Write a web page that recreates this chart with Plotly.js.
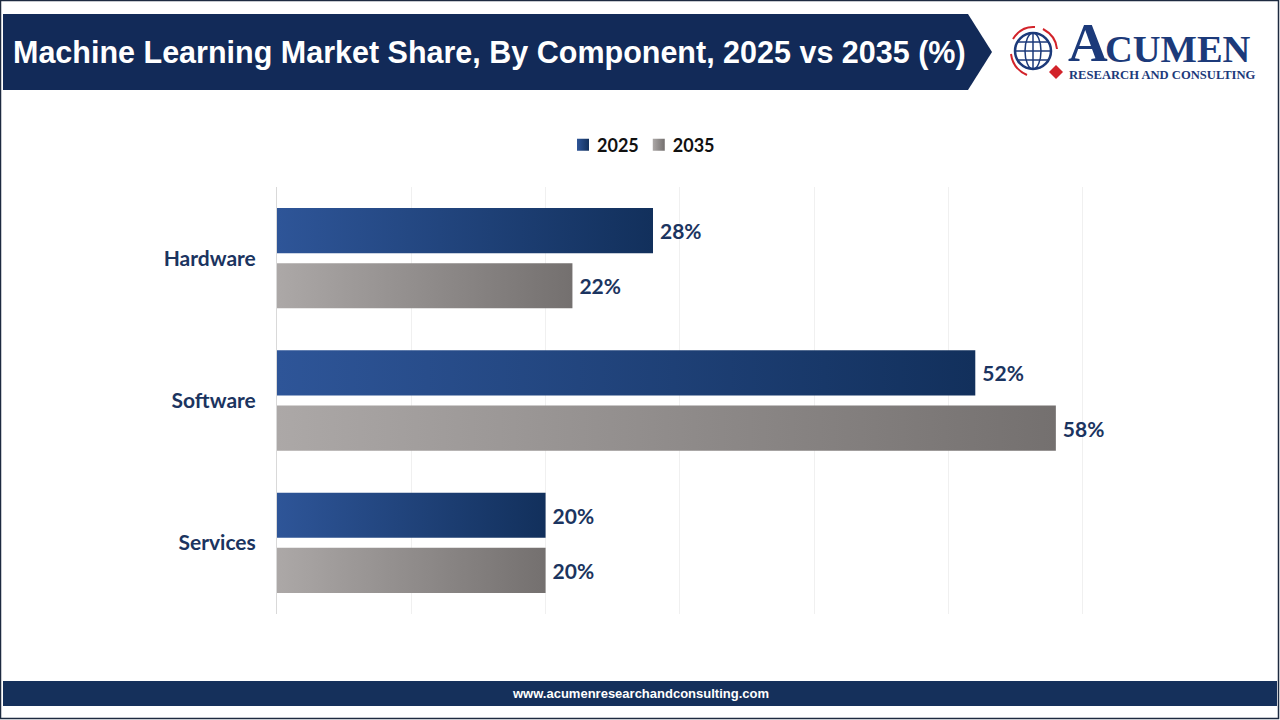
<!DOCTYPE html>
<html>
<head>
<meta charset="utf-8">
<script src="https://cdn.plot.ly/plotly-3.0.1.min.js"></script>
<style>
  html, body { margin: 0; padding: 0; background: #ffffff; }
  #chart { width: 1280px; height: 720px; }
</style>
</head>
<body>
<div id="chart"></div>
<script>
// Market share by component (percent)
const components = ['Hardware', 'Software', 'Services'];
const share2025 = [28, 52, 20];
const share2035 = [22, 58, 20];
const seriesNames = ['2025', '2035'];

const W = 1280, H = 720;
const M = { l: 277, r: 63, t: 187, b: 106 };
const PW = W - M.l - M.r, PH = H - M.t - M.b;
// pixel -> paper fraction helpers for decorations
const px = v => (v - M.l) / PW;
const py = v => (H - M.b - v) / PH;

const navy = '#1b3460';
const labelFont = { family: 'Lato, "Open Sans", sans-serif', size: 21, color: navy, weight: 700 };

const traces = [
  {
    type: 'bar', orientation: 'h', name: seriesNames[0],
    y: components, x: share2025,
    marker: { color: '#1f4280' },
    text: share2025.map(v => v + '%'), textposition: 'outside',
    textfont: labelFont, cliponaxis: false, hoverinfo: 'skip'
  },
  {
    type: 'bar', orientation: 'h', name: seriesNames[1],
    y: components, x: share2035,
    marker: { color: '#8f8b8a' },
    text: share2035.map(v => v + '%'), textposition: 'outside',
    textfont: labelFont, cliponaxis: false, hoverinfo: 'skip'
  }
];

function rectPath(x0, y0, x1, y1) {
  return `M${px(x0)},${py(y0)} L${px(x1)},${py(y0)} L${px(x1)},${py(y1)} L${px(x0)},${py(y1)} Z`;
}

const logoBlue = '#1c3a7a';
const logoRed = '#d2232a';

const shapes = [
  // outer frame
  { type: 'rect', xref: 'paper', yref: 'paper', x0: px(0.5), x1: px(1278.5), y0: py(0.5), y1: py(718.5),
    line: { color: '#1d2a40', width: 1.5 }, fillcolor: 'rgba(0,0,0,0)', layer: 'below' },
  // title banner with arrow tip
  { type: 'path', xref: 'paper', yref: 'paper',
    path: `M${px(3)},${py(14)} L${px(968)},${py(14)} L${px(992)},${py(52)} L${px(968)},${py(90)} L${px(3)},${py(90)} Z`,
    fillcolor: '#122a58', line: { width: 0 } },
  // footer band
  { type: 'path', xref: 'paper', yref: 'paper', path: rectPath(3, 681, 1277, 706),
    fillcolor: '#15305b', line: { width: 0 } },
  // logo globe
  { type: 'circle', xref: 'paper', yref: 'paper', x0: px(1015), x1: px(1051), y0: py(33), y1: py(69),
    line: { color: logoBlue, width: 2.5 }, fillcolor: '#ffffff' },
  { type: 'circle', xref: 'paper', yref: 'paper', x0: px(1025), x1: px(1041), y0: py(33), y1: py(69),
    line: { color: logoBlue, width: 1.5 } },
  { type: 'line', xref: 'paper', yref: 'paper', x0: px(1033), x1: px(1033), y0: py(33), y1: py(69),
    line: { color: logoBlue, width: 1.5 } },
  { type: 'line', xref: 'paper', yref: 'paper', x0: px(1015), x1: px(1051), y0: py(51), y1: py(51),
    line: { color: logoBlue, width: 1.5 } },
  { type: 'line', xref: 'paper', yref: 'paper', x0: px(1018), x1: px(1048), y0: py(42), y1: py(42),
    line: { color: logoBlue, width: 1.5 } },
  { type: 'line', xref: 'paper', yref: 'paper', x0: px(1018), x1: px(1048), y0: py(60), y1: py(60),
    line: { color: logoBlue, width: 1.5 } },
  // red orbit arcs
  { type: 'path', xref: 'paper', yref: 'paper',
    path: `M${px(1013)},${py(39)} Q${px(1021)},${py(26)} ${px(1035)},${py(27)}`,
    line: { color: logoRed, width: 2 } },
  { type: 'path', xref: 'paper', yref: 'paper',
    path: `M${px(1043)},${py(29)} Q${px(1056)},${py(36)} ${px(1057)},${py(49)}`,
    line: { color: logoRed, width: 2 } },
  { type: 'path', xref: 'paper', yref: 'paper',
    path: `M${px(1011)},${py(54)} Q${px(1013)},${py(69)} ${px(1027)},${py(75)}`,
    line: { color: logoRed, width: 2 } },
  // red diamond
  { type: 'path', xref: 'paper', yref: 'paper',
    path: `M${px(1056)},${py(65)} L${px(1063)},${py(72)} L${px(1056)},${py(79)} L${px(1049)},${py(72)} Z`,
    fillcolor: logoRed, line: { width: 0 } }
];

const serif = '"Liberation Serif", "DejaVu Serif", serif';
const annotations = [
  { xref: 'paper', yref: 'paper', x: px(11), y: py(52), xanchor: 'left', yanchor: 'middle', showarrow: false,
    text: 'Machine Learning Market Share, By Component, 2025 vs 2035 (%)',
    font: { family: '"Liberation Sans", Arial, sans-serif', size: 30.5, color: '#ffffff', weight: 700 } },
  { xref: 'paper', yref: 'paper', x: px(1066), y: py(75), xanchor: 'left', yanchor: 'bottom', showarrow: false,
    text: 'A', font: { family: serif, size: 55, color: logoBlue, weight: 700 } },
  { xref: 'paper', yref: 'paper', x: px(1103), y: py(72), xanchor: 'left', yanchor: 'bottom', showarrow: false,
    text: 'CUMEN', font: { family: serif, size: 38.5, color: logoBlue, weight: 700 } },
  { xref: 'paper', yref: 'paper', x: px(1067), y: py(74.5), xanchor: 'left', yanchor: 'middle', showarrow: false,
    text: 'RESEARCH AND CONSULTING', font: { family: serif, size: 12.6, color: logoBlue, weight: 700 } },
  { xref: 'paper', yref: 'paper', x: px(640), y: py(693.5), xanchor: 'center', yanchor: 'middle', showarrow: false,
    text: 'www.acumenresearchandconsulting.com',
    font: { family: '"Liberation Sans", Arial, sans-serif', size: 13, color: '#ffffff', weight: 700 } }
];

const layout = {
  width: W, height: H,
  margin: M,
  paper_bgcolor: '#ffffff', plot_bgcolor: '#ffffff',
  barmode: 'group', bargap: 0.225, bargroupgap: 0.18,
  showlegend: true,
  legend: {
    orientation: 'h', x: px(557), xanchor: 'left', y: py(145), yanchor: 'middle',
    font: { family: 'Lato, "Open Sans", sans-serif', size: 18, color: '#111111', weight: 700 },
    traceorder: 'normal'
  },
  xaxis: {
    range: [0, 70], dtick: 10, showticklabels: false, showgrid: true,
    gridcolor: '#f0f0f0', gridwidth: 1, zeroline: false, showline: false, fixedrange: true
  },
  yaxis: {
    autorange: 'reversed', showgrid: false, zeroline: false,
    showline: true, linecolor: '#d9d9d9', linewidth: 1,
    ticks: '', ticklabelstandoff: 16,
    tickfont: labelFont, fixedrange: true
  },
  shapes, annotations
};

const gradients = [
  { id: 'grad2025', from: '#2e5598', to: '#12305c' },
  { id: 'grad2035', from: '#aca8a7', to: '#74706f' }
];

function applyGradients(gd) {
  const svg = gd.querySelector('svg.main-svg');
  const defs = svg.querySelector('defs');
  const ns = 'http://www.w3.org/2000/svg';
  gradients.forEach(g => {
    if (svg.querySelector('#' + g.id)) return;
    const lg = document.createElementNS(ns, 'linearGradient');
    lg.setAttribute('id', g.id);
    lg.setAttribute('x1', '0'); lg.setAttribute('x2', '1');
    lg.setAttribute('y1', '0'); lg.setAttribute('y2', '0');
    [[0, g.from], [1, g.to]].forEach(([o, c]) => {
      const s = document.createElementNS(ns, 'stop');
      s.setAttribute('offset', o);
      s.setAttribute('stop-color', c);
      lg.appendChild(s);
    });
    defs.appendChild(lg);
  });
  gd.querySelectorAll('.barlayer .trace.bars').forEach((t, i) => {
    t.querySelectorAll('.point path').forEach(p => { p.style.fill = `url(#${gradients[i].id})`; });
    // a little more breathing room between bar end and its value label
    t.querySelectorAll('.point text').forEach(tx => {
      const prev = tx.getAttribute('transform') || '';
      tx.setAttribute('transform', 'translate(4,0) ' + prev);
    });
  });
  gd.querySelectorAll('.legend .traces').forEach((t, i) => {
    t.querySelectorAll('.legendpoints path').forEach(p => { p.style.fill = `url(#${gradients[i].id})`; });
    // tuck the swatch closer to its label, and the entries closer together
    const pts = t.querySelector('.legendpoints');
    if (pts) pts.setAttribute('transform', 'translate(6,0)');
    if (i > 0) {
      const prev = t.getAttribute('transform') || '';
      t.setAttribute('transform', prev + ` translate(${-11 * i},0)`);
    }
  });
}

Plotly.newPlot('chart', traces, layout, { displayModeBar: false, staticPlot: true })
  .then(applyGradients);
</script>
</body>
</html>
